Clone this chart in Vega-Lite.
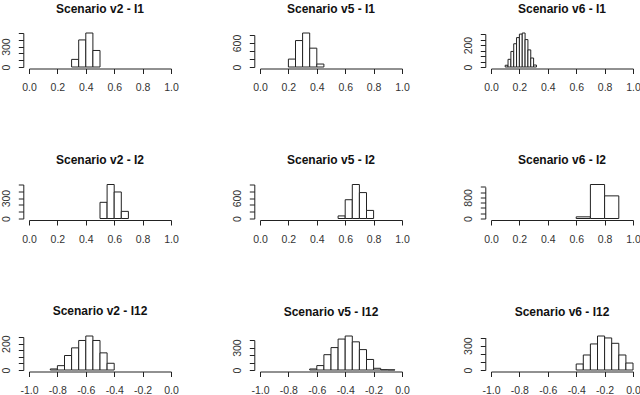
{
  "$schema": "https://vega.github.io/schema/vega-lite/v6.json",
  "padding": {"left": 1, "top": 2, "right": 0, "bottom": 0},
  "background": "white",
  "data": {"values": [
    {"p": "v2-I1", "x0": 0.30, "x1": 0.35, "n": 112},
    {"p": "v2-I1", "x0": 0.35, "x1": 0.40, "n": 398},
    {"p": "v2-I1", "x0": 0.40, "x1": 0.45, "n": 500},
    {"p": "v2-I1", "x0": 0.45, "x1": 0.50, "n": 243},
    {"p": "v5-I1", "x0": 0.20, "x1": 0.25, "n": 198},
    {"p": "v5-I1", "x0": 0.25, "x1": 0.30, "n": 661},
    {"p": "v5-I1", "x0": 0.30, "x1": 0.35, "n": 850},
    {"p": "v5-I1", "x0": 0.35, "x1": 0.40, "n": 471},
    {"p": "v5-I1", "x0": 0.40, "x1": 0.45, "n": 74},
    {"p": "v6-I1", "x0": 0.10, "x1": 0.12, "n": 16},
    {"p": "v6-I1", "x0": 0.12, "x1": 0.14, "n": 70},
    {"p": "v6-I1", "x0": 0.14, "x1": 0.16, "n": 142},
    {"p": "v6-I1", "x0": 0.16, "x1": 0.18, "n": 212},
    {"p": "v6-I1", "x0": 0.18, "x1": 0.20, "n": 268},
    {"p": "v6-I1", "x0": 0.20, "x1": 0.22, "n": 300},
    {"p": "v6-I1", "x0": 0.22, "x1": 0.24, "n": 310},
    {"p": "v6-I1", "x0": 0.24, "x1": 0.26, "n": 250},
    {"p": "v6-I1", "x0": 0.26, "x1": 0.28, "n": 156},
    {"p": "v6-I1", "x0": 0.28, "x1": 0.30, "n": 82},
    {"p": "v6-I1", "x0": 0.30, "x1": 0.32, "n": 18},
    {"p": "v2-I2", "x0": 0.50, "x1": 0.55, "n": 238},
    {"p": "v2-I2", "x0": 0.55, "x1": 0.60, "n": 500},
    {"p": "v2-I2", "x0": 0.60, "x1": 0.65, "n": 390},
    {"p": "v2-I2", "x0": 0.65, "x1": 0.70, "n": 105},
    {"p": "v5-I2", "x0": 0.55, "x1": 0.60, "n": 76},
    {"p": "v5-I2", "x0": 0.60, "x1": 0.65, "n": 552},
    {"p": "v5-I2", "x0": 0.65, "x1": 0.70, "n": 1000},
    {"p": "v5-I2", "x0": 0.70, "x1": 0.75, "n": 762},
    {"p": "v5-I2", "x0": 0.75, "x1": 0.80, "n": 238},
    {"p": "v6-I2", "x0": 0.60, "x1": 0.70, "n": 63},
    {"p": "v6-I2", "x0": 0.70, "x1": 0.80, "n": 1290},
    {"p": "v6-I2", "x0": 0.80, "x1": 0.90, "n": 859},
    {"p": "v2-I12", "x0": -0.85, "x1": -0.80, "n": 8},
    {"p": "v2-I12", "x0": -0.80, "x1": -0.75, "n": 33},
    {"p": "v2-I12", "x0": -0.75, "x1": -0.70, "n": 110},
    {"p": "v2-I12", "x0": -0.70, "x1": -0.65, "n": 168},
    {"p": "v2-I12", "x0": -0.65, "x1": -0.60, "n": 224},
    {"p": "v2-I12", "x0": -0.60, "x1": -0.55, "n": 258},
    {"p": "v2-I12", "x0": -0.55, "x1": -0.50, "n": 224},
    {"p": "v2-I12", "x0": -0.50, "x1": -0.45, "n": 130},
    {"p": "v2-I12", "x0": -0.45, "x1": -0.40, "n": 51},
    {"p": "v5-I12", "x0": -0.65, "x1": -0.60, "n": 14},
    {"p": "v5-I12", "x0": -0.60, "x1": -0.55, "n": 59},
    {"p": "v5-I12", "x0": -0.55, "x1": -0.50, "n": 205},
    {"p": "v5-I12", "x0": -0.50, "x1": -0.45, "n": 300},
    {"p": "v5-I12", "x0": -0.45, "x1": -0.40, "n": 414},
    {"p": "v5-I12", "x0": -0.40, "x1": -0.35, "n": 455},
    {"p": "v5-I12", "x0": -0.35, "x1": -0.30, "n": 377},
    {"p": "v5-I12", "x0": -0.30, "x1": -0.25, "n": 273},
    {"p": "v5-I12", "x0": -0.25, "x1": -0.20, "n": 141},
    {"p": "v5-I12", "x0": -0.20, "x1": -0.15, "n": 23},
    {"p": "v5-I12", "x0": -0.15, "x1": -0.10, "n": 4},
    {"p": "v5-I12", "x0": -0.10, "x1": -0.05, "n": 2},
    {"p": "v6-I12", "x0": -0.40, "x1": -0.35, "n": 74},
    {"p": "v6-I12", "x0": -0.35, "x1": -0.30, "n": 185},
    {"p": "v6-I12", "x0": -0.30, "x1": -0.25, "n": 321},
    {"p": "v6-I12", "x0": -0.25, "x1": -0.20, "n": 419},
    {"p": "v6-I12", "x0": -0.20, "x1": -0.15, "n": 395},
    {"p": "v6-I12", "x0": -0.15, "x1": -0.10, "n": 329},
    {"p": "v6-I12", "x0": -0.10, "x1": -0.05, "n": 185},
    {"p": "v6-I12", "x0": -0.05, "x1": 0.00, "n": 86}
  ]},
  "columns": 3,
  "spacing": {"row": 117.5, "column": 89},
  "bounds": "flush",
  "concat": [
    {
      "title": "Scenario v2 - I1",
      "width": 142, "height": 34,
      "transform": [{"filter": "datum.p == 'v2-I1'"}],
      "mark": {"type": "rect", "fill": "white", "stroke": "#222", "strokeWidth": 1},
      "encoding": {
        "x": {"field": "x0", "type": "quantitative", "title": null, "scale": {"domain": [0, 1], "nice": false, "zero": false},
              "axis": {"domain": true, "ticks": true, "domainColor": "#222", "tickColor": "#222", "values": [0, 0.2, 0.4, 0.6, 0.8, 1], "labelExpr": "replace(format(datum.value, '.1f'), '\u2212', '-')"}},
        "x2": {"field": "x1"},
        "y": {"field": "n", "type": "quantitative", "title": null, "scale": {"domain": [0, 500], "nice": false},
              "axis": {"values": [0, 100, 200, 300, 400, 500], "labelExpr": "datum.value == 0 || datum.value == 300 ? datum.label : ''"}},
        "y2": {"datum": 0}
      }
    },
    {
      "title": "Scenario v5 - I1",
      "width": 142, "height": 34,
      "transform": [{"filter": "datum.p == 'v5-I1'"}],
      "mark": {"type": "rect", "fill": "white", "stroke": "#222", "strokeWidth": 1},
      "encoding": {
        "x": {"field": "x0", "type": "quantitative", "title": null, "scale": {"domain": [0, 1], "nice": false, "zero": false},
              "axis": {"domain": true, "ticks": true, "domainColor": "#222", "tickColor": "#222", "values": [0, 0.2, 0.4, 0.6, 0.8, 1], "labelExpr": "replace(format(datum.value, '.1f'), '\u2212', '-')"}},
        "x2": {"field": "x1"},
        "y": {"field": "n", "type": "quantitative", "title": null, "scale": {"domain": [0, 850], "nice": false},
              "axis": {"values": [0, 200, 400, 600, 800], "domainDash": [32, 100], "labelExpr": "datum.value == 0 || datum.value == 600 ? datum.label : ''"}},
        "y2": {"datum": 0}
      }
    },
    {
      "title": "Scenario v6 - I1",
      "width": 142, "height": 34,
      "transform": [{"filter": "datum.p == 'v6-I1'"}],
      "mark": {"type": "rect", "fill": "white", "stroke": "#222", "strokeWidth": 1},
      "encoding": {
        "x": {"field": "x0", "type": "quantitative", "title": null, "scale": {"domain": [0, 1], "nice": false, "zero": false},
              "axis": {"domain": true, "ticks": true, "domainColor": "#222", "tickColor": "#222", "values": [0, 0.2, 0.4, 0.6, 0.8, 1], "labelExpr": "replace(format(datum.value, '.1f'), '\u2212', '-')"}},
        "x2": {"field": "x1"},
        "y": {"field": "n", "type": "quantitative", "title": null, "scale": {"domain": [0, 310], "nice": false},
              "axis": {"values": [0, 50, 100, 150, 200, 250, 300], "domainDash": [33, 100], "labelExpr": "datum.value == 0 || datum.value == 200 ? datum.label : ''"}},
        "y2": {"datum": 0}
      }
    },
    {
      "title": "Scenario v2 - I2",
      "width": 142, "height": 34,
      "transform": [{"filter": "datum.p == 'v2-I2'"}],
      "mark": {"type": "rect", "fill": "white", "stroke": "#222", "strokeWidth": 1},
      "encoding": {
        "x": {"field": "x0", "type": "quantitative", "title": null, "scale": {"domain": [0, 1], "nice": false, "zero": false},
              "axis": {"domain": true, "ticks": true, "domainColor": "#222", "tickColor": "#222", "values": [0, 0.2, 0.4, 0.6, 0.8, 1], "labelExpr": "replace(format(datum.value, '.1f'), '\u2212', '-')"}},
        "x2": {"field": "x1"},
        "y": {"field": "n", "type": "quantitative", "title": null, "scale": {"domain": [0, 500], "nice": false},
              "axis": {"values": [0, 100, 200, 300, 400, 500], "labelExpr": "datum.value == 0 || datum.value == 300 ? datum.label : ''"}},
        "y2": {"datum": 0}
      }
    },
    {
      "title": "Scenario v5 - I2",
      "width": 142, "height": 34,
      "transform": [{"filter": "datum.p == 'v5-I2'"}],
      "mark": {"type": "rect", "fill": "white", "stroke": "#222", "strokeWidth": 1},
      "encoding": {
        "x": {"field": "x0", "type": "quantitative", "title": null, "scale": {"domain": [0, 1], "nice": false, "zero": false},
              "axis": {"domain": true, "ticks": true, "domainColor": "#222", "tickColor": "#222", "values": [0, 0.2, 0.4, 0.6, 0.8, 1], "labelExpr": "replace(format(datum.value, '.1f'), '\u2212', '-')"}},
        "x2": {"field": "x1"},
        "y": {"field": "n", "type": "quantitative", "title": null, "scale": {"domain": [0, 1000], "nice": false},
              "axis": {"values": [0, 200, 400, 600, 800, 1000], "labelExpr": "datum.value == 0 || datum.value == 600 ? datum.label : ''"}},
        "y2": {"datum": 0}
      }
    },
    {
      "title": "Scenario v6 - I2",
      "width": 142, "height": 34,
      "transform": [{"filter": "datum.p == 'v6-I2'"}],
      "mark": {"type": "rect", "fill": "white", "stroke": "#222", "strokeWidth": 1},
      "encoding": {
        "x": {"field": "x0", "type": "quantitative", "title": null, "scale": {"domain": [0, 1], "nice": false, "zero": false},
              "axis": {"domain": true, "ticks": true, "domainColor": "#222", "tickColor": "#222", "values": [0, 0.2, 0.4, 0.6, 0.8, 1], "labelExpr": "replace(format(datum.value, '.1f'), '\u2212', '-')"}},
        "x2": {"field": "x1"},
        "y": {"field": "n", "type": "quantitative", "title": null, "scale": {"domain": [0, 1290], "nice": false},
              "axis": {"values": [0, 200, 400, 600, 800, 1000, 1200], "domainDash": [31.6, 100], "labelExpr": "datum.value == 0 || datum.value == 800 ? datum.label : ''"}},
        "y2": {"datum": 0}
      }
    },
    {
      "title": "Scenario v2 - I12",
      "width": 142, "height": 34,
      "transform": [{"filter": "datum.p == 'v2-I12'"}],
      "mark": {"type": "rect", "fill": "white", "stroke": "#222", "strokeWidth": 1},
      "encoding": {
        "x": {"field": "x0", "type": "quantitative", "title": null, "scale": {"domain": [-1, 0], "nice": false, "zero": false},
              "axis": {"domain": true, "ticks": true, "domainColor": "#222", "tickColor": "#222", "values": [-1, -0.8, -0.6, -0.4, -0.2, 0], "labelExpr": "replace(format(datum.value, '.1f'), '\u2212', '-')"}},
        "x2": {"field": "x1"},
        "y": {"field": "n", "type": "quantitative", "title": null, "scale": {"domain": [0, 258], "nice": false},
              "axis": {"values": [0, 50, 100, 150, 200, 250], "domainDash": [33, 100], "labelExpr": "datum.value == 0 || datum.value == 200 ? datum.label : ''"}},
        "y2": {"datum": 0}
      }
    },
    {
      "title": "Scenario v5 - I12",
      "width": 142, "height": 34,
      "transform": [{"filter": "datum.p == 'v5-I12'"}],
      "mark": {"type": "rect", "fill": "white", "stroke": "#222", "strokeWidth": 1},
      "encoding": {
        "x": {"field": "x0", "type": "quantitative", "title": null, "scale": {"domain": [-1, 0], "nice": false, "zero": false},
              "axis": {"domain": true, "ticks": true, "domainColor": "#222", "tickColor": "#222", "values": [-1, -0.8, -0.6, -0.4, -0.2, 0], "labelExpr": "replace(format(datum.value, '.1f'), '\u2212', '-')"}},
        "x2": {"field": "x1"},
        "y": {"field": "n", "type": "quantitative", "title": null, "scale": {"domain": [0, 455], "nice": false},
              "axis": {"values": [0, 100, 200, 300, 400], "domainDash": [29.9, 100], "labelExpr": "datum.value == 0 || datum.value == 300 ? datum.label : ''"}},
        "y2": {"datum": 0}
      }
    },
    {
      "title": "Scenario v6 - I12",
      "width": 142, "height": 34,
      "transform": [{"filter": "datum.p == 'v6-I12'"}],
      "mark": {"type": "rect", "fill": "white", "stroke": "#222", "strokeWidth": 1},
      "encoding": {
        "x": {"field": "x0", "type": "quantitative", "title": null, "scale": {"domain": [-1, 0], "nice": false, "zero": false},
              "axis": {"domain": true, "ticks": true, "domainColor": "#222", "tickColor": "#222", "values": [-1, -0.8, -0.6, -0.4, -0.2, 0], "labelExpr": "replace(format(datum.value, '.1f'), '\u2212', '-')"}},
        "x2": {"field": "x1"},
        "y": {"field": "n", "type": "quantitative", "title": null, "scale": {"domain": [0, 419], "nice": false},
              "axis": {"values": [0, 100, 200, 300, 400], "domainDash": [32.5, 100], "labelExpr": "datum.value == 0 || datum.value == 300 ? datum.label : ''"}},
        "y2": {"datum": 0}
      }
    }
  ],
  "config": {
    "font": "Liberation Sans",
    "view": {"stroke": null},
    "title": {"font": "Liberation Sans", "fontSize": 12, "fontWeight": "bold", "color": "#111", "frame": "group", "anchor": "middle", "offset": 17},
    "axis": {"grid": false, "tickSize": 5, "tickColor": "#222", "domainColor": "#222", "tickWidth": 1, "domainWidth": 1,
             "labelFont": "Liberation Sans", "labelFontSize": 10.5, "labelColor": "#333", "labelFlush": false, "labelOverlap": false, "labelBound": false},
    "axisX": {"offset": 1.5, "labelPadding": 9},
    "axisY": {"offset": 5.7, "labelAngle": 270, "labelAlign": "center", "labelBaseline": "bottom", "labelPadding": 6.5}
  }
}
